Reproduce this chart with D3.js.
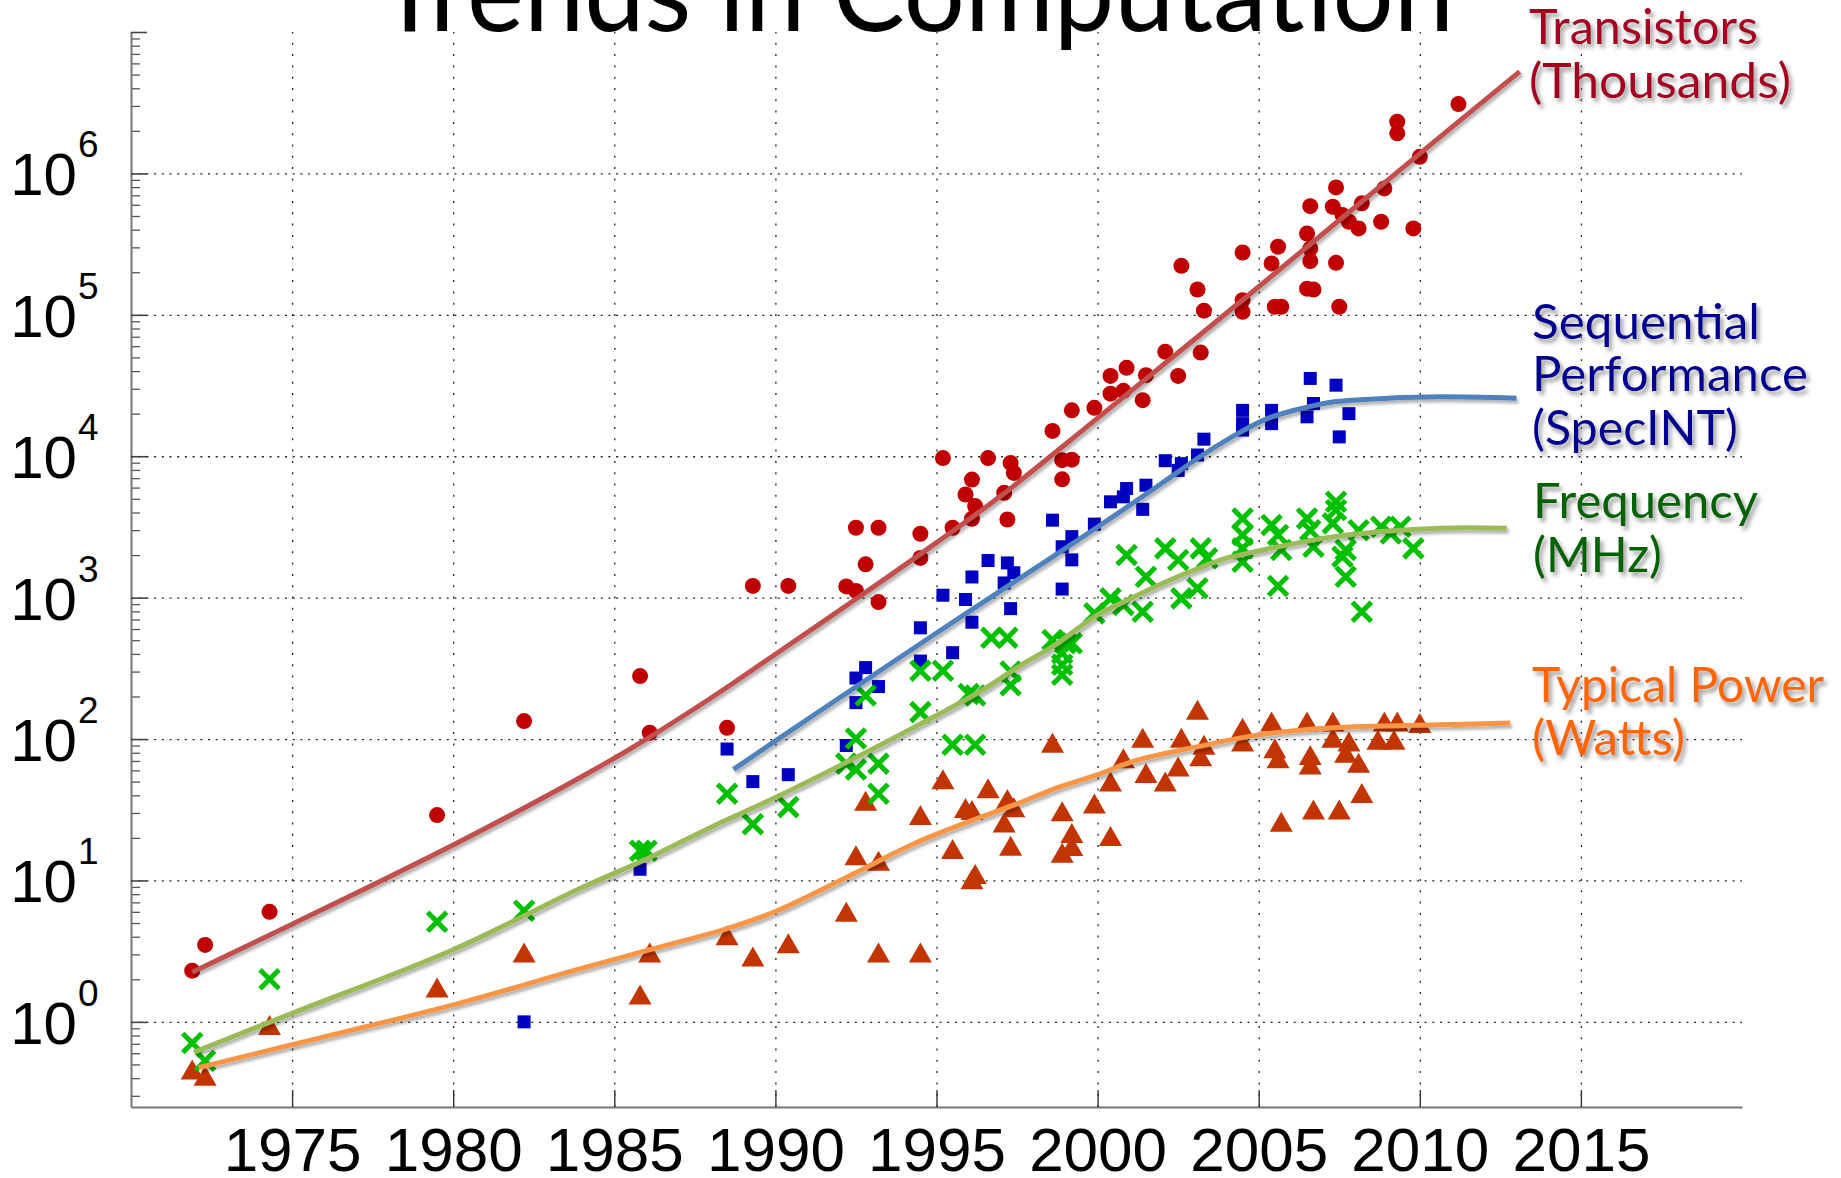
<!DOCTYPE html>
<html>
<head>
<meta charset="utf-8">
<script src="https://cdn.jsdelivr.net/npm/d3@7"></script>
<style>
  html, body { margin: 0; padding: 0; background: #fff; }
  svg { display: block; }
</style>
</head>
<body>
<svg id="chart" width="1841" height="1178"></svg>
<script>
// ---------------- DATA ----------------
const xTickYears = [1975, 1980, 1985, 1990, 1995, 2000, 2005, 2010, 2015];
const yTickExponents = [0, 1, 2, 3, 4, 5, 6];
const titleText = "Trends in Computation";

const labelTransistors = ["Transistors", "(Thousands)"];
const labelSpecInt = ["Sequential", "Performance", "(SpecINT)"];
const labelFrequency = ["Frequency", "(MHz)"];
const labelPower = ["Typical Power", "(Watts)"];

// [year, value]
const transistorPoints = [
  [1971.9,2.3],[1972.3,3.5],[1974.3,6.0],[1979.5,29],[1982.2,134],[1985.8,279],[1986.1,111],
  [1988.5,120],[1989.3,1210],[1990.4,1210],[1992.2,1200],[1992.5,1115],[1992.5,3120],[1992.8,1720],
  [1993.2,3120],[1993.2,930],[1994.5,2830],[1994.5,1910],[1995.2,9700],[1995.5,3120],[1995.9,5360],
  [1996.1,6840],[1996.2,4440],[1996.1,3610],[1996.6,9700],[1997.1,5510],[1997.2,3570],[1997.3,8970],
  [1997.4,7620],[1998.6,15100],[1998.9,9380],[1999.2,9460],[1998.9,6870],[1999.2,21100],[1999.9,22000],
  [2000.4,37000],[2000.9,42200],[2001.5,37400],[2000.4,27700],[2000.8,29000],[2001.4,24900],[2002.1,54700],
  [2003.2,54100],[2002.5,37000],[2002.6,222000],[2003.1,151000],[2003.3,107000],[2004.5,127000],
  [2004.5,105000],[2004.5,276000],[2005.4,231000],[2005.6,303000],[2005.5,114000],[2005.7,114000],
  [2006.5,376000],[2006.6,294000],[2006.6,240000],[2006.5,153000],[2006.7,151000],[2006.6,587000],
  [2007.3,581000],[2007.4,796000],[2007.4,233000],[2007.5,114000],[2007.6,507000],[2007.8,455000],
  [2008.1,408000],[2008.2,614000],[2008.8,455000],[2008.9,783000],[2009.3,2320000],[2009.3,1920000],
  [2009.8,408000],[2010.0,1310000],[2011.2,3090000]
];

const specIntPoints = [
  [1982.2,1.0],[1985.8,12],[1988.5,85],[1989.3,50],[1990.4,56],[1992.2,90],[1992.5,181],[1992.5,270],
  [1992.8,320],[1993.2,235],[1994.5,356],[1994.5,612],[1995.2,1040],[1995.5,408],[1995.9,970],
  [1996.1,1400],[1996.1,670],[1996.6,1830],[1997.1,1270],[1997.2,1760],[1997.3,836],[1997.4,1500],
  [1998.6,3530],[1998.9,1150],[1998.9,2290],[1999.2,1850],[1999.2,2700],[1999.9,3310],[2000.4,4760],
  [2000.8,5160],[2000.9,5910],[2001.4,4210],[2001.5,6240],[2002.1,9300],[2002.5,7940],[2002.6,8870],
  [2003.1,10200],[2003.3,13200],[2004.5,21100],[2004.5,17000],[2004.5,15300],[2005.4,21100],
  [2005.4,17000],[2006.6,35500],[2006.7,23600],[2006.5,19000],[2007.4,31800],[2007.8,20000],[2007.5,13700]
];

const frequencyPoints = [
  [1971.9,0.71],[1972.3,0.53],[1974.3,2.0],[1979.5,5.1],[1982.2,6.1],[1985.8,16.2],[1986.0,16.2],
  [1988.5,41],[1989.3,25],[1990.4,33],[1992.2,67],[1992.5,61],[1992.5,101],[1992.8,203],[1993.2,67],
  [1993.2,41],[1994.5,155],[1994.5,304],[1995.2,304],[1995.5,91],[1996.2,91],[1996.0,208],[1996.2,203],
  [1996.7,521],[1997.2,521],[1997.3,300],[1997.3,240],[1998.6,502],[1999.0,476],[1998.9,405],[1998.9,335],
  [1998.9,285],[1999.2,476],[1999.9,774],[2000.4,988],[2000.8,887],[2001.4,796],[2000.9,2000],[2001.5,1406],
  [2002.1,2230],[2002.5,1845],[2002.6,988],[2003.1,1164],[2003.2,2230],[2003.4,1900],[2004.5,3630],
  [2004.5,2770],[2004.5,2230],[2004.5,1795],[2005.4,3260],[2005.6,2770],[2005.7,2170],[2005.6,1208],
  [2006.5,3630],[2006.6,3000],[2006.7,2290],[2007.4,4760],[2007.4,4160],[2007.3,3350],[2007.7,2170],
  [2007.6,1945],[2007.7,1406],[2008.1,3000],[2008.2,796],[2008.8,3170],[2009.4,3170],[2009.1,2840],[2009.8,2230]
];

const powerPoints = [
  [1971.9,0.46],[1972.3,0.415],[1974.3,0.95],[1979.5,1.75],[1982.2,3.1],[1985.8,1.56],[1986.1,3.1],
  [1988.5,4.1],[1989.3,2.9],[1990.4,3.6],[1992.2,6.0],[1992.5,15.1],[1992.8,36.6],[1993.2,13.8],[1993.2,3.1],
  [1994.5,3.1],[1994.5,29],[1995.2,52],[1995.5,16.7],[1995.9,32.5],[1996.1,31.5],[1996.2,11.1],[1996.1,10.2],
  [1996.6,44.8],[1997.2,37.6],[1997.1,25.7],[1997.3,17.6],[1997.4,32.9],[1998.6,94],[1998.9,30.8],[1999.9,35],
  [1999.2,21.7],[1999.2,17.5],[1998.9,15.7],[2000.4,20.6],[2000.4,50],[2000.8,73],[2001.4,102],[2001.5,57.5],
  [2002.1,50],[2002.5,64],[2002.6,102],[2003.1,161],[2003.3,91],[2003.2,75.5],[2004.5,120],[2004.5,96],
  [2005.4,133],[2005.5,86],[2005.6,73],[2005.7,26],[2006.5,133],[2006.6,77],[2006.6,66],[2007.3,133],
  [2007.3,102],[2007.8,96],[2007.7,80],[2008.1,68],[2006.7,31.7],[2007.5,31.7],[2008.2,41.6],[2008.9,133],
  [2009.3,133],[2008.7,99],[2009.2,99],[2010.0,130]
];

// trend curves: [year, value]
const transistorTrend = [
  [1971.9,2.24],[1975,4.9],[1980,17.8],[1984,54.3],[1986,100],[1988,195],[1990,398],[1992.5,977],
  [1995,2450],[1997,5250],[2000,18600],[2005,158000],[2010,1380000],[2013.1,5250000]
];
const specIntTrend = [
  [1988.7,61],[1990,97],[1992.5,234],[1995,562],[1997,1120],[2000,3160],[2002,6460],[2003.2,10000],
  [2004.5,15100],[2005.3,18600],[2006.3,21700],[2007.3,24200],[2009,25700],[2010.6,26300],[2013,25700]
];
const frequencyTrend = [
  [1971.95,0.61],[1975,1.15],[1980,3.24],[1983.9,8.7],[1986,14.2],[1988.1,24.4],[1990,38.6],[1992.2,68.4],
  [1994.3,121],[1996.4,220],[1997.6,331],[1998.6,451],[2000,755],[2001,977],[2002,1260],[2003.15,1620],
  [2004,1900],[2005,2140],[2007.3,2690],[2010.6,3090],[2012.7,3090]
];
const powerTrend = [
  [1972.1,0.475],[1975,0.69],[1980,1.32],[1983.9,2.36],[1986.1,3.24],[1988.5,4.57],[1990,6.03],[1992.2,10.5],
  [1994.3,18.2],[1996.4,28.2],[1997.6,35.5],[1998.6,43.9],[2000,56],[2001.1,69.5],[2003.15,88.7],[2005,107],
  [2007.3,120],[2010.6,126],[2012.8,130]
];

// ---------------- DRAWING ----------------
const svg = d3.select("#chart");
const W = 1841, H = 1178;
svg.append("rect").attr("width", W).attr("height", H).attr("fill", "#fff");

const defs = svg.append("defs");
const ts = defs.append("filter").attr("id", "txtShadow")
  .attr("x", "-10%").attr("y", "-30%").attr("width", "130%").attr("height", "170%");
ts.append("feDropShadow").attr("dx", 3).attr("dy", 4).attr("stdDeviation", 2)
  .attr("flood-color", "#7f7f7f").attr("flood-opacity", 0.75);
const ls = defs.append("filter").attr("id", "lineShadow")
  .attr("x", "-5%").attr("y", "-5%").attr("width", "110%").attr("height", "110%");
ls.append("feDropShadow").attr("dx", 2).attr("dy", 3).attr("stdDeviation", 1.5)
  .attr("flood-color", "#000").attr("flood-opacity", 0.3);

const plotLeft = 131, plotRight = 1742, plotTop = 32, plotBottom = 1107;
const x = d3.scaleLinear().domain([1970, 2020]).range([plotLeft, plotRight]);
const y = d3.scaleLog().domain([0.25, 1e7]).range([plotBottom, plotTop]);

// grid
const majorVals = yTickExponents.map(e => Math.pow(10, e));
svg.append("g")
  .attr("transform", `translate(${plotLeft},0)`)
  .call(d3.axisLeft(y).tickValues(majorVals).tickSize(-(plotRight - plotLeft)).tickFormat(""))
  .call(g => g.select(".domain").remove())
  .call(g => g.selectAll("line").attr("stroke", "#222").attr("stroke-width", 1.3).attr("stroke-dasharray", "2,5.7"));
svg.append("g")
  .attr("transform", `translate(0,${plotBottom})`)
  .call(d3.axisBottom(x).tickValues(xTickYears).tickSize(-(plotBottom - plotTop)).tickFormat(""))
  .call(g => g.select(".domain").remove())
  .call(g => g.selectAll("line").attr("stroke", "#222").attr("stroke-width", 1.3).attr("stroke-dasharray", "2,9.3"));

// minor y ticks
const minorVals = [];
for (let e = -1; e <= 6; e++) for (let m = 2; m <= 9; m++) {
  const v = m * Math.pow(10, e);
  if (v >= 0.25 && v <= 1e7) minorVals.push(v);
}
svg.append("g")
  .attr("transform", `translate(${plotLeft},0)`)
  .call(d3.axisLeft(y).tickValues(minorVals).tickSize(-9).tickFormat("").tickSizeOuter(0))
  .call(g => g.select(".domain").remove())
  .call(g => g.selectAll("line").attr("stroke", "#555").attr("stroke-width", 1.3));

// major y axis
const yAxisG = svg.append("g")
  .attr("transform", `translate(${plotLeft},0)`)
  .call(d3.axisLeft(y).tickValues(majorVals.concat([1e7])).tickSize(-16).tickFormat("").tickSizeOuter(0));
yAxisG.select(".domain").attr("stroke", "#777").attr("stroke-width", 2);
yAxisG.selectAll("line").attr("stroke", "#444").attr("stroke-width", 1.6);

// y labels 10^n
const yLab = svg.append("g").attr("font-family", "'Liberation Sans', Arial, sans-serif").attr("fill", "#000");
yTickExponents.forEach(e => {
  const yy = y(Math.pow(10, e));
  yLab.append("text").attr("x", 77).attr("y", yy + 22).attr("text-anchor", "end")
    .attr("font-size", 60).text("10");
  yLab.append("text").attr("x", 78).attr("y", yy - 16).attr("text-anchor", "start")
    .attr("font-size", 37).text(String(e));
});

// x axis
const xAxisG = svg.append("g")
  .attr("transform", `translate(0,${plotBottom})`)
  .call(d3.axisBottom(x).tickValues(xTickYears).tickSize(-17).tickSizeOuter(0).tickFormat(d3.format("d")));
xAxisG.select(".domain").attr("stroke", "#777").attr("stroke-width", 2);
xAxisG.selectAll("line").attr("stroke", "#333").attr("stroke-width", 1.4);
xAxisG.selectAll("text")
  .attr("y", 64).attr("dy", 0)
  .attr("font-size", 62)
  .attr("font-family", "'Liberation Sans', Arial, sans-serif")
  .attr("fill", "#000");

// markers
const plot = svg.append("g");
plot.append("g").selectAll("circle").data(transistorPoints).join("circle")
  .attr("cx", d => x(d[0])).attr("cy", d => y(d[1])).attr("r", 8).attr("fill", "#c00000");
plot.append("g").selectAll("rect").data(specIntPoints).join("rect")
  .attr("x", d => x(d[0]) - 6.5).attr("y", d => y(d[1]) - 6.5)
  .attr("width", 13).attr("height", 13).attr("fill", "#0000c0");
const tw = 23, th = 20;
plot.append("g").selectAll("path").data(powerPoints).join("path")
  .attr("d", `M0,${-th/2}L${tw/2},${th/2}L${-tw/2},${th/2}Z`)
  .attr("transform", d => `translate(${x(d[0])},${y(d[1])})`)
  .attr("fill", "#c23400");
const xs = 9.5;
plot.append("g").selectAll("path").data(frequencyPoints).join("path")
  .attr("d", `M${-xs},${-xs}L${xs},${xs}M${-xs},${xs}L${xs},${-xs}`)
  .attr("transform", d => `translate(${x(d[0])},${y(d[1])})`)
  .attr("stroke", "#00c000").attr("stroke-width", 5).attr("fill", "none");

// trend lines
const line = d3.line().x(d => x(d[0])).y(d => y(d[1])).curve(d3.curveCatmullRom.alpha(0.5));
const trends = [
  [transistorTrend, "#c0504d"],
  [specIntTrend, "#4f81bd"],
  [frequencyTrend, "#9bbb59"],
  [powerTrend, "#f79646"]
];
const tl = svg.append("g").attr("filter", "url(#lineShadow)");
trends.forEach(([data, color]) => {
  tl.append("path").datum(data).attr("d", line)
    .attr("fill", "none").attr("stroke", color).attr("stroke-width", 5).attr("stroke-linecap", "butt");
});

// title
svg.append("text").attr("x", 378).attr("y", 31)
  .attr("font-family", "Lato, 'Open Sans', sans-serif").attr("font-size", 110)
  .attr("textLength", 1076).attr("lengthAdjust", "spacingAndGlyphs")
  .attr("fill", "#000").text(titleText);

// series labels
function addLabel(lines, color, xPos, baselines, widths) {
  const g = svg.append("g").attr("filter", "url(#txtShadow)");
  lines.forEach((t, i) => {
    g.append("text").attr("x", xPos).attr("y", baselines[i])
      .attr("font-family", "Lato, 'Open Sans', sans-serif").attr("font-size", 48)
      .attr("textLength", widths[i]).attr("lengthAdjust", "spacingAndGlyphs")
      .attr("fill", color).text(t);
  });
}
addLabel(labelTransistors, "#a50021", 1529, [44, 98], [229, 262]);
addLabel(labelSpecInt, "#000090", 1532, [339, 391, 445], [228, 276, 206]);
addLabel(labelFrequency, "#006400", 1533, [518, 572], [225, 129]);
addLabel(labelPower, "#ff6600", 1532, [702, 755], [292, 153]);
</script>
</body>
</html>
